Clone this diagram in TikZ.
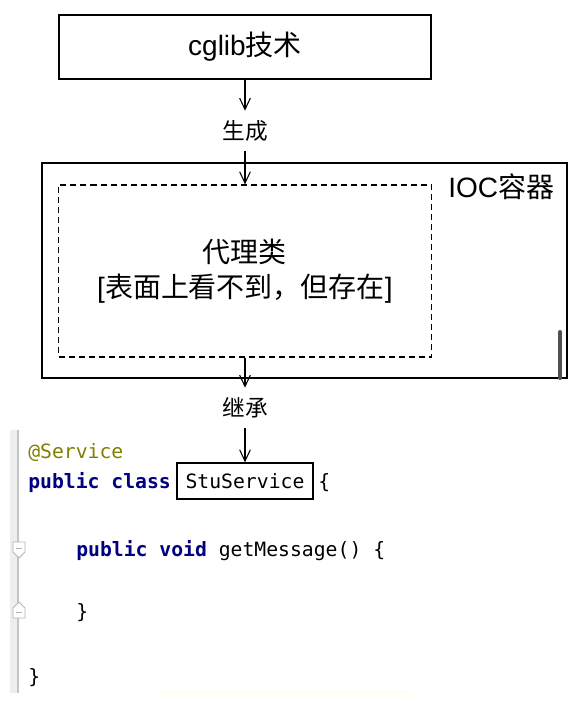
\documentclass[tikz,border=0pt]{standalone}
\usepackage{fontspec}
\setmainfont{Liberation Sans}
\newfontfamily\cjk{Noto Sans CJK SC}
\newfontfamily\codefont{DejaVu Sans Mono}
\usetikzlibrary{arrows.meta}
\definecolor{kwblue}{HTML}{000080}
\definecolor{annot}{HTML}{808000}
\definecolor{gutterbg}{HTML}{EEEEEE}
\definecolor{gutterln}{HTML}{C4C4C4}
\definecolor{foldc}{HTML}{B4B4B4}
\definecolor{scrollc}{HTML}{505050}
\begin{document}
\begin{tikzpicture}[x=0.75pt,y=-0.75pt,
  box/.style={draw, line width=1pt, inner sep=0pt},
  big/.style={font=\fontsize{21pt}{26.25pt}\selectfont},
  lbl/.style={font=\fontsize{17pt}{20pt}\selectfont\cjk, inner sep=0pt, minimum height=30pt},
  arr/.style={-{Straight Barb[length=8.5pt,width=8pt]}, line width=0.8pt},
  code/.style={font=\codefont\fontsize{14.8pt}{17pt}\selectfont, inner sep=0pt, anchor=base west},
  kw/.style={text=kwblue}]
\useasboundingbox (0,0) rectangle (584,701);

% top box
\node[box, big, minimum width=279pt, minimum height=48pt] (cglib) at (245,47) {cglib{\cjk 技术}};

% generate label
\node[lbl] (gen) at (245,131) {生成};

% IOC container
\node[box, minimum width=393.75pt, minimum height=161.25pt] (ioc) at (304.5,270.5) {};
\node[big, anchor=west, inner sep=0pt] (ioclbl) at (448,187) {IOC{\cjk 容器}};
\draw[line width=3pt, color=scrollc, line cap=round] (560,332) -- (560,378);

% proxy class
\node[box, dashed, dash pattern=on 4.5pt off 3pt, big, align=center,
      minimum width=279.75pt, minimum height=129pt] (proxy) at (245,271)
  {{\cjk 代理类}\\ {[}{\cjk 表面上看不到，但存在}{]}};

% inherit label
\node[lbl] (inh) at (245,408) {继承};

% code gutter
\fill[gutterbg] (10,430) rectangle (18,693);
\draw[gutterln, line width=0.8pt] (18,430) -- (18,693);
\draw[foldc, fill=white, line width=0.7pt] (13,542) -- (25,542) -- (25,552) -- (19,558) -- (13,552) -- cycle;
\draw[foldc, line width=0.7pt] (16,548) -- (22,548);
\draw[foldc, fill=white, line width=0.7pt] (13,618) -- (25,618) -- (25,608) -- (19,602) -- (13,608) -- cycle;
\draw[foldc, line width=0.7pt] (16,612) -- (22,612);
\fill[yellow!6] (160,691) rectangle (410,695);

% code
\node[code, text=annot] (ann) at (28,458) {@Service};
\node[code, kw] (cls) at (28,488) {\bfseries public class};
\node[box, font=\codefont\fontsize{14.8pt}{17pt}\selectfont, minimum width=102pt, minimum height=27pt] (stu) at (245,481) {StuService};
\node[code] (ob) at (318,488) {\{};
\node[code] (meth) at (76,556) {{\bfseries\color{kwblue}public void} getMessage() \{};
\node[code] (cb1) at (76,618) {\}};
\node[code] (cb2) at (28,683) {\}};

% arrows
\draw[arr] (cglib.south) -- (gen.north);
\draw[arr] (gen.south) -- (proxy.north);
\draw[arr] (proxy.south) -- (inh.north);
\draw[arr] (inh.south) -- (stu.north);
\end{tikzpicture}
\end{document}
